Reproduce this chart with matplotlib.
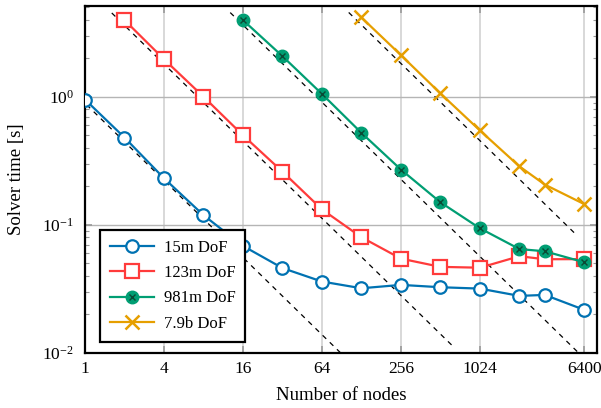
import numpy as np
import matplotlib
matplotlib.use("Agg")
import matplotlib.pyplot as plt
from matplotlib.ticker import FixedLocator, NullFormatter, LogLocator, FixedFormatter

plt.rcParams['font.family'] = ['Liberation Serif', 'DejaVu Serif']
plt.rcParams['mathtext.fontset'] = 'custom'
plt.rcParams['mathtext.rm'] = 'Liberation Serif'
plt.rcParams['mathtext.it'] = 'Liberation Serif:italic'

# data
nodes_15m = [1, 2, 4, 8, 16, 32, 64, 128, 256, 512, 1024, 2048, 3200, 6400]
time_15m = [0.95, 0.48, 0.231, 0.119, 0.0685, 0.046, 0.0361, 0.032, 0.034, 0.0326, 0.0318, 0.0279, 0.0284, 0.0217]

nodes_123m = [2, 4, 8, 16, 32, 64, 128, 256, 512, 1024, 2048, 3200, 6400]
time_123m = [3.96, 1.96, 1.0, 0.50, 0.26, 0.132, 0.080, 0.0545, 0.047, 0.0463, 0.0569, 0.0539, 0.054]

nodes_981m = [16, 32, 64, 128, 256, 512, 1024, 2048, 3200, 6400]
time_981m = [3.96, 2.07, 1.05, 0.522, 0.27, 0.15, 0.094, 0.0647, 0.0622, 0.051]

nodes_79b = [128, 256, 512, 1024, 2048, 3200, 6400]
time_79b = [4.15, 2.11, 1.06, 0.545, 0.286, 0.206, 0.145]

# ideal scaling lines t = c / n
ideal_c = [0.89, 7.2, 58, 465]
ideal_start = [0.8, 1.6, 12.8, 102.4]
ideal_end = [100, 640, 6000, 5600]

xticks = [1, 4, 16, 64, 256, 1024, 6400]

blue = '#0072b2'
red = '#ff3b3b'
green = '#009e73'
orange = '#e69f00'

fig = plt.figure(figsize=(6.01, 4.08), dpi=100)
ax = fig.add_axes([0.1414, 0.1348, 0.852, 0.8505])

for c, a, b in zip(ideal_c, ideal_start, ideal_end):
    xs = np.array([a, b])
    ax.plot(xs, c / xs, color='black', ls=(0, (4, 4)), lw=0.9, zorder=2)

h1, = ax.plot(nodes_15m, time_15m, color=blue, lw=1.6, marker='o', ms=9,
              mfc='white', mew=1.6, zorder=3)
h2, = ax.plot(nodes_123m, time_123m, color=red, lw=1.6, marker='s', ms=9.5,
              mfc='white', mew=1.6, zorder=3)
h3, = ax.plot(nodes_981m, time_981m, color=green, lw=1.6, marker='o', ms=9,
              mfc=green, mew=1.0, zorder=3)
h3x, = ax.plot(nodes_981m, time_981m, ls='none', marker='x', ms=4.5,
               mec='#0a4a35', mew=1.0, zorder=4)
h4, = ax.plot(nodes_79b, time_79b, color=orange, lw=1.6, marker='x', ms=10,
              mew=1.8, zorder=3)

ax.set_xscale('log', base=2)
ax.set_yscale('log')
ax.set_xlim(1, 8000)
ax.set_ylim(0.01, 5.1)

ax.xaxis.set_major_locator(FixedLocator(xticks))
ax.xaxis.set_major_formatter(FixedFormatter([str(t) for t in xticks]))
ax.xaxis.set_minor_locator(FixedLocator([]))
ax.yaxis.set_major_locator(LogLocator(base=10))
ax.yaxis.set_minor_locator(LogLocator(base=10, subs=np.arange(2, 10)))
ax.yaxis.set_minor_formatter(NullFormatter())

ax.grid(True, axis='x', which='major', color='#d6d6d6', lw=1.3, zorder=0)
ax.grid(True, axis='y', which='major', color='#b5b5b5', lw=1.0, zorder=0)
ax.tick_params(which='both', direction='in', top=True, right=True,
               color='#999999', labelsize=12.5)
ax.tick_params(which='major', length=5, width=1.2)
ax.tick_params(which='minor', length=3, width=0.8)
ax.tick_params(axis='x', pad=6)
ax.tick_params(axis='y', pad=8)

for s in ax.spines.values():
    s.set_linewidth(1.6)
    s.set_color('black')

ax.set_xlabel('Number of nodes', fontsize=13.5, labelpad=7)
ax.set_ylabel('Solver time [s]', fontsize=13.5, labelpad=12)

leg = ax.legend([h1, h2, (h3, h3x), h4],
                ['15m DoF', '123m DoF', '981m DoF', '7.9b DoF'],
                loc='lower left', bbox_to_anchor=(0.03, 0.033), fontsize=12,
                frameon=True, fancybox=False, edgecolor='black',
                handlelength=2.6, borderpad=0.6, labelspacing=0.55,
                handletextpad=0.6, borderaxespad=0)
leg.get_frame().set_linewidth(1.6)
leg.get_frame().set_alpha(1)

fig.savefig('out.png', dpi=100)
